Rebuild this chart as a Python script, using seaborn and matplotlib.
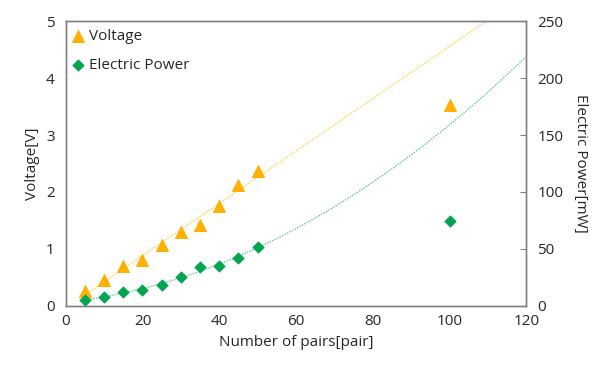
import numpy as np
import pandas as pd
import matplotlib
matplotlib.use("Agg")
import matplotlib.pyplot as plt
import seaborn as sns

# measured data
pairs = [5, 10, 15, 20, 25, 30, 35, 40, 45, 50, 100]
voltage = [0.26, 0.46, 0.70, 0.81, 1.07, 1.30, 1.42, 1.75, 2.12, 2.37, 3.53]
power = [5.3, 8, 12, 14, 18.4, 25, 34, 35, 42, 52, 74.6]

sns.set_style("white")
plt.rcParams["font.family"] = ["Open Sans", "DejaVu Sans"]

df = pd.DataFrame({"pairs": pairs, "voltage": voltage, "power": power})
fit_df = df[df["pairs"] <= 50]

orange = "#FFB000"
green = "#00A550"
spine_col = "#808080"

fig = plt.figure(figsize=(5.92, 3.65), dpi=100)
ax = fig.add_axes([0.111, 0.162, 0.778, 0.78])
ax2 = ax.twinx()

# trendlines (Excel style fits on the first ten points)
xs = np.linspace(5, 120, 200)
v_coef = np.polyfit(fit_df["pairs"], fit_df["voltage"], 1)
p_coef = np.polyfit(fit_df["pairs"], fit_df["power"], 2)
ax.plot(xs, np.polyval(v_coef, xs), ls=(0, (1, 1)), lw=1.0, color="#FFD24D", zorder=1)
ax2.plot(xs, np.polyval(p_coef, xs), ls=(0, (1, 1)), lw=1.0, color="#5CCB8C", zorder=1)

sns.scatterplot(data=df, x="pairs", y="voltage", marker="^", s=75,
                color=orange, edgecolor=orange, ax=ax, zorder=3, label="Voltage")
sns.scatterplot(data=df, x="pairs", y="power", marker="D", s=34,
                color=green, edgecolor=green, ax=ax2, zorder=3, label="Electric Power")

ax.set_xlim(0, 120)
ax.set_ylim(0, 5)
ax2.set_ylim(0, 250)
ax.set_xticks(range(0, 121, 20))
ax.set_yticks(range(0, 6))
ax2.set_yticks(range(0, 251, 50))

ax.set_xlabel("Number of pairs[pair]", fontsize=11)
ax.set_ylabel("Voltage[V]", fontsize=11)
ax2.set_ylabel("Electric Power[mW]", fontsize=11, rotation=270, labelpad=18)

for a in (ax, ax2):
    for s in a.spines.values():
        s.set_color(spine_col)
        s.set_linewidth(1.0)
ax.tick_params(axis="x", direction="in", length=4, color=spine_col, labelsize=11, pad=6)
ax.tick_params(axis="y", length=0, labelsize=11, pad=8)
ax2.tick_params(axis="y", direction="in", length=4, color=spine_col, labelsize=11, pad=8)

h1, l1 = ax.get_legend_handles_labels()
h2, l2 = ax2.get_legend_handles_labels()
if ax2.get_legend():
    ax2.get_legend().remove()
ax.legend(h1 + h2, l1 + l2, loc="upper left", frameon=False, fontsize=11,
          handlelength=1.0, handletextpad=0.2, borderaxespad=0.0, borderpad=0.3,
          labelspacing=0.9, bbox_to_anchor=(0.0, 0.988))

fig.savefig("out.png", dpi=100)
